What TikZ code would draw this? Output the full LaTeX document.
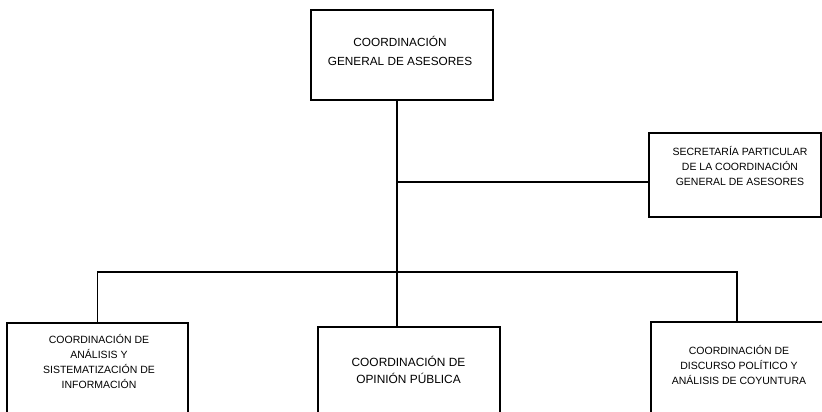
\documentclass[tikz,border=0pt]{standalone}
\usepackage{fontspec}
\setmainfont{Liberation Sans}
\usetikzlibrary{positioning}

\begin{document}
\begin{tikzpicture}[x=1pt, y=-1pt]
	\tikzstyle{Caja}	= [draw, rectangle, line width=1.5pt, inner sep=0pt]
	\tikzstyle{Texto}	= [anchor=north, align=center, inner sep=0pt]
	\tikzstyle{Chico}	= [font=\fontsize{10.5}{15}\selectfont]
	\tikzstyle{Linea}	= [line width=1.2pt]

	\useasboundingbox (0,0) rectangle (822,412);
	\clip (0,0) rectangle (822,412);

	\node (cga) at (402, 55) [Caja, minimum width=182pt, minimum height=90pt] {};
	\node (sec) at (735, 175) [Caja, minimum width=172pt, minimum height=84pt] {};
	\node (cai) at (97.5, 383) [Caja, minimum width=181pt, minimum height=120pt] {};
	\node (cop) at (409, 387) [Caja, minimum width=182pt, minimum height=120pt] {};
	\node (cdp) at (737, 382) [Caja, minimum width=172pt, minimum height=120pt] {};

	\node (cga-t) at (400, 36.5) [Texto, font=\fontsize{11.8}{19}\selectfont] {COORDINACIÓN\\GENERAL DE ASESORES};
	\node (sec-t) at (740, 146) [Texto, Chico] {SECRETARÍA PARTICULAR\\DE LA COORDINACIÓN\\GENERAL DE ASESORES};
	\node (cai-t) at (99, 334) [Texto, Chico] {COORDINACIÓN DE\\ANÁLISIS Y\\SISTEMATIZACIÓN DE\\INFORMACIÓN};
	\node (cop-t) at (408.5, 356) [Texto, font=\fontsize{11.9}{16.5}\selectfont] {COORDINACIÓN DE\\OPINIÓN PÚBLICA};
	\node (cdp-t) at (739, 345) [Texto, Chico] {COORDINACIÓN DE\\DISCURSO POLÍTICO Y\\ANÁLISIS DE COYUNTURA};

	\coordinate (bus) at (397, 272);
	\coordinate (rama) at (397, 182);

	\draw [Linea] (cga.south -| bus) -- (bus);
	\draw [Linea] (rama) -- (rama -| sec.west);
	\draw [Linea] (cai.north) |- (bus) -| (cdp.north);
	\draw [Linea] (bus) -- (bus |- cop.north);
\end{tikzpicture}
\end{document}
